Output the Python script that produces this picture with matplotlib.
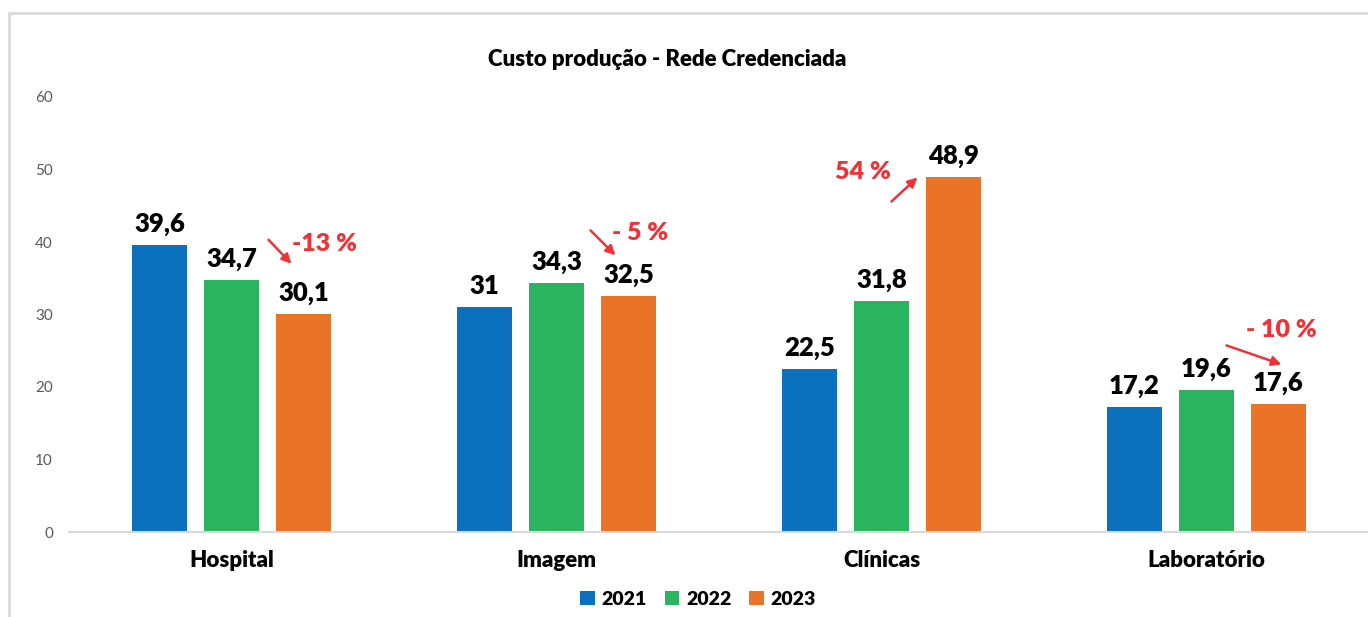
import numpy as np
import matplotlib.pyplot as plt
from matplotlib.patches import Rectangle
from matplotlib.transforms import offset_copy

plt.rcParams['font.family'] = ['Lato', 'DejaVu Sans']

categories = ['Hospital', 'Imagem', 'Clínicas', 'Laboratório']
years = ['2021', '2022', '2023']
values_2021 = [39.6, 31, 22.5, 17.2]
values_2022 = [34.7, 34.3, 31.8, 19.6]
values_2023 = [30.1, 32.5, 48.9, 17.6]
changes = ['-13 %', '- 5 %', '54 %', '- 10 %']

colors = ['#0B70BD', '#2BB460', '#E97326']
red = '#EE3237'
heavy = 'heavy'

# change arrows, in pixels relative to the top of the 2023 bar
# (text_dx, text_dy, start_dx, start_dy, end_dx, end_dy)
arrow_layout = [
    (21, 70, -35, 74, -12, 50),
    (12, 63, -38, 66, -13, 41),
    (-91, 5, -62, -24, -36, 0),
    (3, 74, -52, 59, 3, 40),
]


def fmt(v):
    return '{:g}'.format(v).replace('.', ',')


fig = plt.figure(figsize=(13.68, 6.17), dpi=100)
ax = fig.add_axes([69 / 1368, 1 - 532 / 617, 1300 / 1368, (532 - 97) / 617])

x = np.arange(len(categories))
width = 0.172
step = 0.2215
series = [values_2021, values_2022, values_2023]
for idx, vals in enumerate(series):
    pos = x + (idx - 1) * step
    ax.bar(pos, vals, width, color=colors[idx], label=years[idx])
    for px, v in zip(pos, vals):
        ax.annotate(fmt(v), (px, v), xytext=(0, 9), textcoords='offset pixels',
                    ha='center', va='bottom', fontsize=18.5,
                    fontweight=heavy, color='black')

for i, txt in enumerate(changes):
    tdx, tdy, sdx, sdy, edx, edy = arrow_layout[i]
    bx = x[i] + step
    by = values_2023[i]
    ax.annotate(txt, (bx, by), xytext=(tdx, tdy), textcoords='offset pixels',
                ha='center', va='center', fontsize=18, fontweight=heavy,
                color=red)
    t_end = offset_copy(ax.transData, fig=fig, x=edx, y=edy, units='dots')
    t_start = offset_copy(ax.transData, fig=fig, x=sdx, y=sdy, units='dots')
    ax.annotate('', xy=(bx, by), xycoords=t_end,
                xytext=(bx, by), textcoords=t_start,
                arrowprops=dict(arrowstyle='-|>', color=red, lw=1.8,
                                mutation_scale=14, shrinkA=0, shrinkB=0))

ax.set_xlim(-0.5, 3.5)
ax.set_ylim(0, 60)
ax.set_yticks(range(0, 61, 10))
ax.set_xticks(x)
ax.set_xticklabels(categories, fontsize=16, fontweight=heavy)
ax.tick_params(axis='x', length=0, pad=13)
ax.tick_params(axis='y', length=0, pad=11.5, labelsize=11, labelcolor='#595959')
for s in ['top', 'right', 'left']:
    ax.spines[s].set_visible(False)
ax.spines['bottom'].set_color('#D9D9D9')
ax.spines['bottom'].set_linewidth(1.5)

ax.set_title('Custo produção - Rede Credenciada', fontsize=16,
             fontweight=heavy, x=598 / 1300, y=1.0, pad=22)

fig.legend(loc='lower center', bbox_to_anchor=(698 / 1368, -0.013), ncol=3,
           frameon=False, prop={'size': 14, 'weight': heavy},
           handlelength=0.75, handleheight=0.75, handletextpad=0.35,
           columnspacing=0.9)

fig.patches.append(Rectangle((9 / 1368, -0.1), 1.2, 1.1 - 13 / 617,
                             transform=fig.transFigure, fill=False,
                             edgecolor='#D9D9D9', lw=2))

fig.savefig('out.png', dpi=100)
